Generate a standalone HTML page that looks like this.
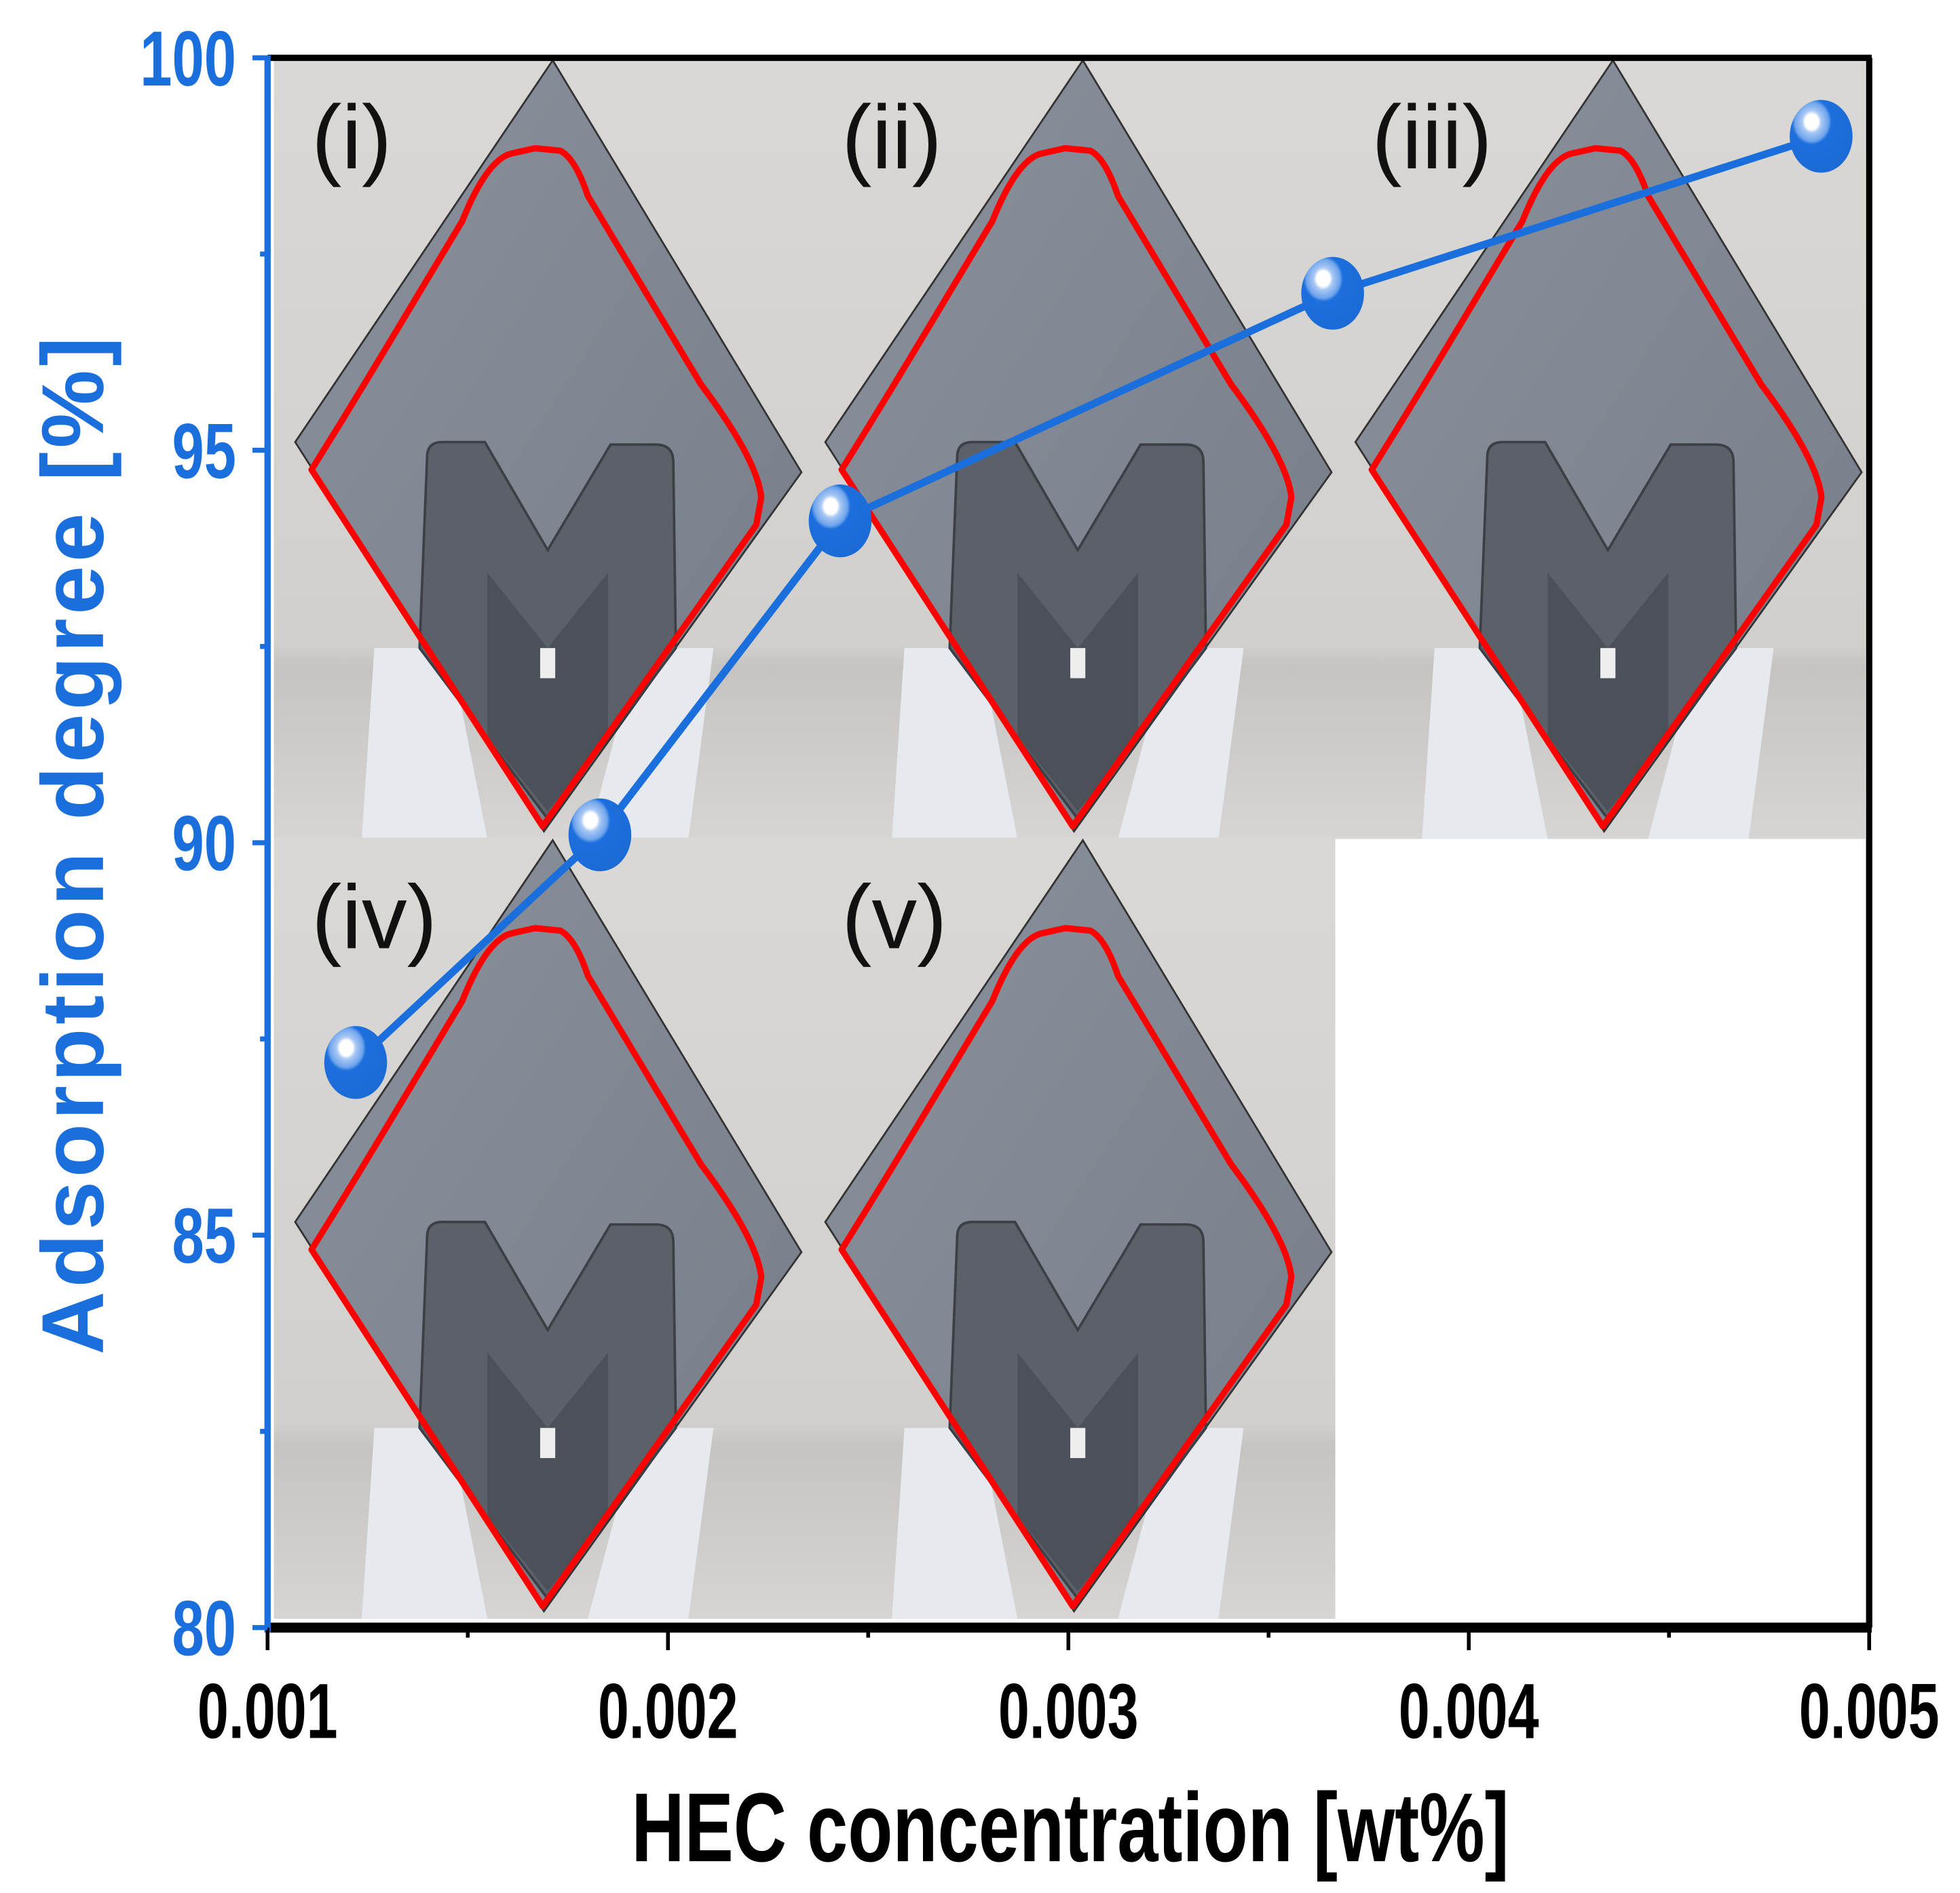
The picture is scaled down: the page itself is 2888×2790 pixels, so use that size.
<!DOCTYPE html>
<html><head><meta charset="utf-8">
<style>
html,body{margin:0;padding:0;background:#fff;}
svg{display:block;}
.narrow{font-family:"Liberation Sans Narrow","Liberation Sans",sans-serif;font-weight:bold;}
</style></head>
<body>
<svg id="chart" xmlns="http://www.w3.org/2000/svg" width="2888" height="2790" viewBox="0 0 1560.3 1507.3">
<defs>
  <linearGradient id="bg" x1="0" y1="0" x2="0" y2="1">
    <stop offset="0" stop-color="#dad8d4"/><stop offset="0.75" stop-color="#d2d0cd"/><stop offset="0.78" stop-color="#c6c4c1"/><stop offset="1" stop-color="#d6d5d3"/>
  </linearGradient>
  <linearGradient id="plate" x1="0" y1="0" x2="1" y2="1">
    <stop offset="0" stop-color="#8a919c"/><stop offset="1" stop-color="#767d88"/>
  </linearGradient>
  <radialGradient id="mk" cx="0.35" cy="0.3" r="0.7">
    <stop offset="0" stop-color="#ffffff"/><stop offset="0.15" stop-color="#ffffff"/><stop offset="0.22" stop-color="#a9c8f3"/><stop offset="0.38" stop-color="#6ea4ec"/><stop offset="0.45" stop-color="#1c6fdc"/><stop offset="1" stop-color="#1a6bd8"/>
  </radialGradient>
</defs>
<g id="panels"></g>
<g id="axes"></g>
<g id="series"></g>
<text class="narrow" x="852" y="1482" font-size="78" text-anchor="middle" fill="#000" transform="translate(852 0) scale(0.75 1) translate(-852 0)">HEC concentration [wt%]</text>
<text font-family="Liberation Sans, sans-serif" font-weight="bold" font-size="70" fill="#1a6fdc" text-anchor="middle" letter-spacing="3" transform="translate(82 672) rotate(-90)">Adsorption degree [%]</text>
</svg>
<script>
const xTicks = [0.001, 0.002, 0.003, 0.004, 0.005];
const xTickLabels = ["0.001", "0.002", "0.003", "0.004", "0.005"];
const yTicks = [80, 85, 90, 95, 100];
const yTickLabels = ["80", "85", "90", "95", "100"];
const hecConc = [0.00122, 0.00183, 0.00243, 0.00366, 0.00488];
const adsorption = [87.2, 90.1, 94.1, 97.0, 99.0];
const panelLabels = ["(i)", "(ii)", "(iii)", "(iv)", "(v)"];

const NS = "http://www.w3.org/2000/svg";
const X0 = 213, X1 = 1488, Y0 = 1296, Y1 = 46;
function sx(v){ return X0 + (v - 0.001) / 0.004 * (X1 - X0); }
function sy(v){ return Y0 - (v - 80) / 20 * (Y0 - Y1); }
function mk(tag, attrs, parent){ const e = document.createElementNS(NS, tag); for (const k in attrs) e.setAttribute(k, attrs[k]); parent.appendChild(e); return e; }

const panelsG = document.getElementById('panels');
const cols = [218, 640, 1062], rows = [46, 667];
const pos = [[0,0],[1,0],[2,0],[0,1],[1,1]];
pos.forEach((p, i) => {
  const px = cols[p[0]], py = rows[p[1]];
  const g = mk('g', {transform: `translate(${px} ${py})`}, panelsG);
  
  
  mk('rect', {x: 0, y: 0, width: 423, height: 622, fill: 'url(#bg)'}, g);
  mk('polygon', {points: '80,470 140,470 170,622 70,622', fill: '#e6e9ee'}, g);
  mk('polygon', {points: '290,470 350,470 330,622 250,622', fill: '#e6e9ee'}, g);
  mk('polygon', {points: '222,2 420,330 215,616 17,306', fill: 'url(#plate)', stroke: '#333', 'stroke-width': 1.5}, g);
  mk('path', {d: 'M122,318 Q122,306 134,306 L168,306 L218,392 L268,308 L304,308 Q318,308 318,322 L320,470 L218,606 L116,470 Z', fill: '#5c6169', stroke: '#3c4046', 'stroke-width': 2}, g);
  mk('path', {d: 'M170,410 L218,470 L266,410 L266,540 L218,600 L170,540 Z', fill: '#4c5058'}, g);
  mk('rect', {x: 212, y: 470, width: 12, height: 24, fill: '#eee'}, g);
  mk('path', {d: 'M208,72 L228,74 Q240,80 250,110 L340,260 Q385,320 388,350 L384,372 L214,612 L30,328 Q60,280 90,230 L150,130 Q170,80 190,76 Z', fill: 'none', stroke: '#f00', 'stroke-width': 5, 'stroke-linejoin': 'round'}, g);
  const t = mk('text', {x: 30, y: 88, 'font-family': 'Liberation Sans, sans-serif', 'font-size': 72, fill: '#111'}, g);
  
  
  t.textContent = panelLabels[i];
});

const axG = document.getElementById('axes');
const topBorder = mk('line', {x1: X0, y1: Y1, x2: X1 + 2, y2: Y1, stroke: '#000', 'stroke-width': 5}, axG);


const rightBorder = mk('line', {x1: X1, y1: Y1, x2: X1, y2: Y0, stroke: '#000', 'stroke-width': 5}, axG);


const xAxisLine = mk('line', {x1: X0, y1: Y0, x2: X1 + 2, y2: Y0, stroke: '#000', 'stroke-width': 8}, axG);


const yAxisLine = mk('line', {x1: X0, y1: Y1 - 2, x2: X0, y2: Y0 + 4, stroke: '#1a6fdc', 'stroke-width': 5}, axG);



xTicks.forEach((v, i) => {
  const x = sx(v);
  const tk = mk('line', {x1: x, y1: Y0, x2: x, y2: Y0 + 18, stroke: '#000', 'stroke-width': 3}, axG);
  
  
  if (i < xTicks.length - 1) {
    const xm = sx(v + 0.0005);
    const m = mk('line', {x1: xm, y1: Y0, x2: xm, y2: Y0 + 8, stroke: '#000', 'stroke-width': 3}, axG);
    
    
  }
  const t = mk('text', {x: x, y: 1384, 'font-size': 62, 'text-anchor': 'middle', fill: '#000', class: 'narrow', transform: `translate(${x} 0) scale(0.72 1) translate(${-x} 0)`}, axG);
  
  
  t.textContent = xTickLabels[i];
});
yTicks.forEach((v, i) => {
  const y = sy(v);
  const tk = mk('line', {x1: X0, y1: y, x2: X0 - 12, y2: y, stroke: '#1a6fdc', 'stroke-width': 4}, axG);
  
  
  if (i < yTicks.length - 1) {
    const ym = sy(v + 2.5);
    const m = mk('line', {x1: X0, y1: ym, x2: X0 - 6, y2: ym, stroke: '#1a6fdc', 'stroke-width': 4}, axG);
    
    
  }
  const t = mk('text', {x: 188, y: y + 22, 'font-size': 62, 'text-anchor': 'end', fill: '#1a6fdc', class: 'narrow', transform: `translate(188 0) scale(0.74 1) translate(-188 0)`}, axG);
  
  
  t.textContent = yTickLabels[i];
});

const seG = document.getElementById('series');
const pts = hecConc.map((v, i) => sx(v) + ',' + sy(adsorption[i])).join(' ');
const seriesLine = mk('polyline', {points: pts, fill: 'none', stroke: '#1a6fdc', 'stroke-width': 6}, seG);


hecConc.forEach((v, i) => {
  const c = mk('ellipse', {cx: sx(v), cy: sy(adsorption[i]), rx: 25, ry: 29, fill: 'url(#mk)'}, seG);
  
  
});
</script>
</body></html>
